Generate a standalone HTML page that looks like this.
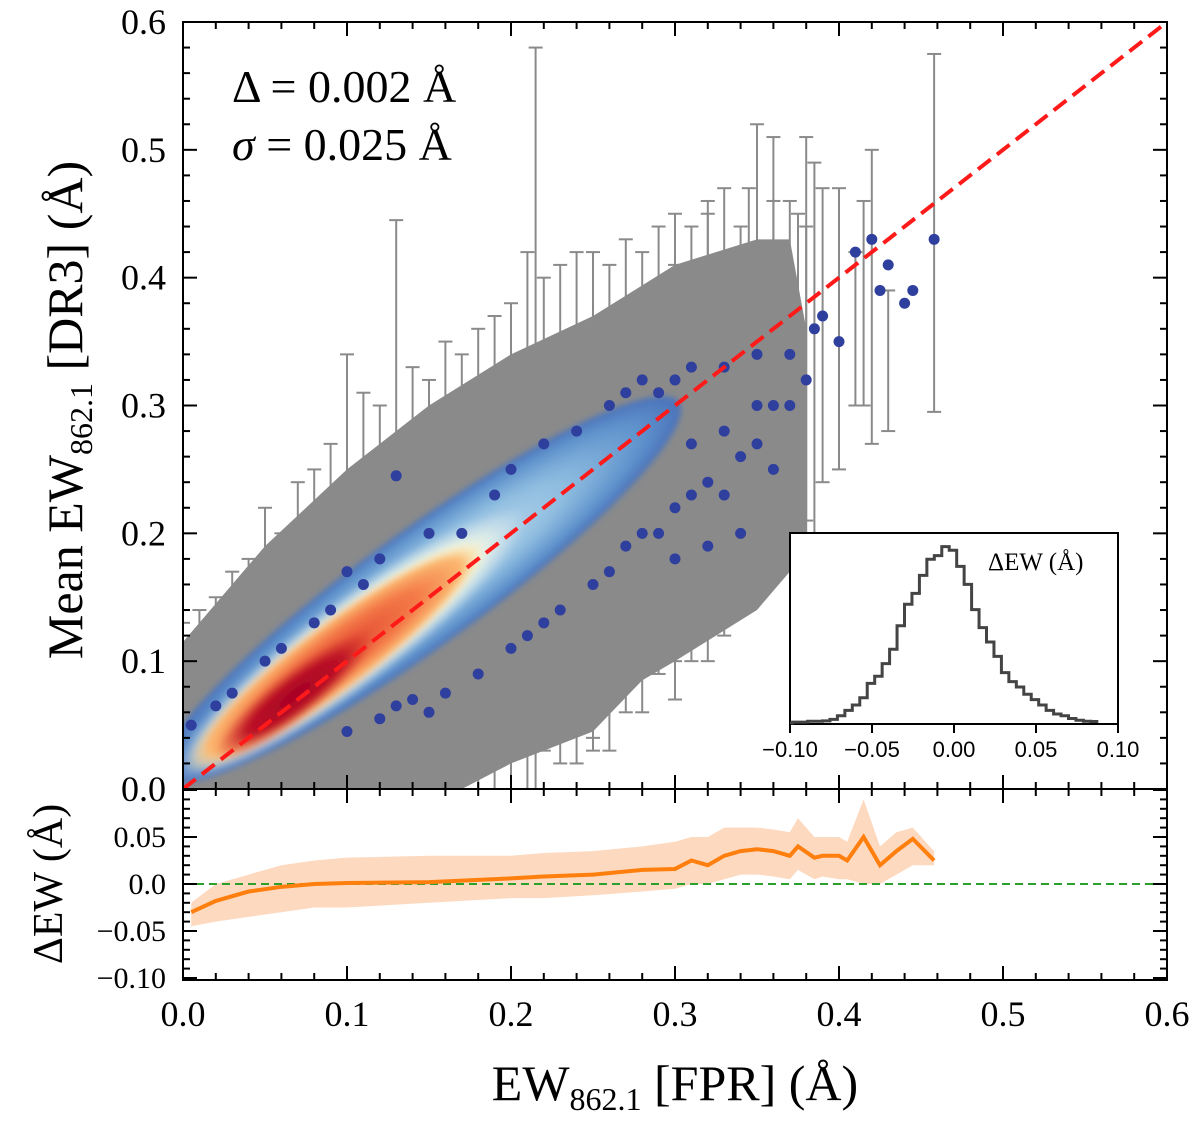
<!DOCTYPE html>
<html><head><meta charset="utf-8"><style>
html,body{margin:0;padding:0;background:#fff;}
svg{display:block;font-family:"Liberation Serif",serif;}
</style></head><body>
<svg id="chart" width="1200" height="1126" viewBox="0 0 1200 1126" xmlns="http://www.w3.org/2000/svg" style="position:absolute;left:0;top:0">
<defs>
<clipPath id="mainclip"><rect x="183" y="22" width="984" height="767"/></clipPath>
<clipPath id="lowclip"><rect x="183" y="789" width="984" height="191"/></clipPath>
<radialGradient id="gBlue"><stop offset="0" stop-color="#cfe5f0"/><stop offset="0.55" stop-color="#8fbde0"/><stop offset="0.85" stop-color="#5f92cc"/><stop offset="1" stop-color="#4a72ba"/></radialGradient>
<radialGradient id="gLight"><stop offset="0" stop-color="#fff1a8"/><stop offset="0.7" stop-color="#f5f8e0"/><stop offset="1" stop-color="#e0eff5" stop-opacity="0"/></radialGradient>
<radialGradient id="gOrange"><stop offset="0" stop-color="#e0432f"/><stop offset="0.55" stop-color="#f47a48"/><stop offset="0.85" stop-color="#fbb870"/><stop offset="1" stop-color="#fde4a0" stop-opacity="0"/></radialGradient>
<radialGradient id="gRed"><stop offset="0" stop-color="#a50026"/><stop offset="0.6" stop-color="#bd1328"/><stop offset="1" stop-color="#d73027" stop-opacity="0"/></radialGradient>
<filter id="blur"><feGaussianBlur stdDeviation="3"/></filter>
</defs>
<g id="main"></g>
<g id="lower"></g>
<g id="inset"></g>
<g id="labels"></g>
</svg>
<script>
// ---------- data ----------
const outlierX = [0.005,0.02,0.03,0.05,0.06,0.08,0.09,0.11,0.12,0.13,0.15,0.17,0.19,0.2,0.22,0.24,0.26,0.27,0.28,0.29,0.3,0.31,0.33,0.35,0.12,0.14,0.16,0.18,0.2,0.21,0.22,0.23,0.25,0.26,0.27,0.28,0.29,0.3,0.31,0.32,0.33,0.34,0.35,0.36,0.37,0.38,0.39,0.4,0.41,0.42,0.425,0.43,0.44,0.445,0.458,0.36,0.34,0.3,0.32,0.35,0.37,0.385,0.33,0.31,0.1,0.13,0.15,0.1];
const outlierY = [0.05,0.065,0.075,0.1,0.11,0.13,0.14,0.16,0.18,0.245,0.2,0.2,0.23,0.25,0.27,0.28,0.3,0.31,0.32,0.31,0.32,0.33,0.33,0.34,0.055,0.07,0.075,0.09,0.11,0.12,0.13,0.14,0.16,0.17,0.19,0.2,0.2,0.22,0.23,0.24,0.23,0.26,0.27,0.3,0.3,0.32,0.37,0.35,0.42,0.43,0.39,0.41,0.38,0.39,0.43,0.25,0.2,0.18,0.19,0.3,0.34,0.36,0.28,0.27,0.045,0.065,0.06,0.17];
const spikeX = [0.0,0.01,0.02,0.03,0.04,0.05,0.06,0.07,0.08,0.09,0.1,0.11,0.12,0.13,0.14,0.15,0.16,0.17,0.18,0.19,0.2,0.21,0.215,0.22,0.23,0.24,0.25,0.26,0.27,0.28,0.29,0.3,0.31,0.32,0.33,0.34,0.345,0.35,0.36,0.37,0.375,0.38,0.385,0.39,0.41,0.415,0.42,0.43,0.458,0.2,0.25,0.3,0.32,0.36,0.38,0.4];
const spikeTop = [0.13,0.14,0.15,0.17,0.18,0.22,0.2,0.24,0.25,0.27,0.34,0.31,0.3,0.445,0.33,0.32,0.35,0.34,0.36,0.37,0.38,0.42,0.58,0.4,0.41,0.42,0.42,0.41,0.43,0.42,0.44,0.45,0.44,0.45,0.47,0.44,0.47,0.52,0.46,0.46,0.45,0.44,0.49,0.47,0.42,0.46,0.5,0.39,0.575,0.31,0.36,0.41,0.46,0.51,0.51,0.47];
const spikeBot = [0.0,0.0,0.0,0.0,0.0,0.0,0.0,0.0,0.0,0.0,0.0,0.0,0.0,0.0,0.0,0.0,0.0,0.0,0.0,0.0,0.0,0.0,0.0,0.03,0.02,0.02,0.04,0.03,0.06,0.06,0.09,0.1,0.1,0.12,0.12,0.14,0.16,0.16,0.18,0.18,0.2,0.21,0.2,0.24,0.3,0.3,0.27,0.28,0.295,0.0,0.03,0.07,0.1,0.17,0.2,0.25];
const resX = [0.005,0.02,0.04,0.06,0.08,0.1,0.15,0.2,0.22,0.25,0.28,0.3,0.31,0.32,0.33,0.34,0.35,0.36,0.37,0.375,0.385,0.39,0.4,0.405,0.415,0.425,0.435,0.445,0.458];
const resY = [-0.03,-0.018,-0.008,-0.003,0.0,0.001,0.002,0.006,0.008,0.01,0.015,0.016,0.025,0.02,0.03,0.035,0.037,0.035,0.03,0.04,0.028,0.03,0.03,0.025,0.05,0.02,0.035,0.048,0.025];
const resLo = [-0.045,-0.04,-0.035,-0.03,-0.025,-0.025,-0.02,-0.015,-0.015,-0.012,-0.008,-0.005,0.0,0.0,0.005,0.01,0.01,0.008,0.005,0.015,0.005,0.008,0.005,0.005,0.0,0.0,0.01,0.02,0.02];
const resHi = [-0.02,0.0,0.01,0.02,0.025,0.028,0.03,0.03,0.033,0.035,0.04,0.045,0.05,0.05,0.06,0.06,0.06,0.058,0.055,0.07,0.05,0.05,0.05,0.045,0.09,0.04,0.055,0.06,0.035];
const histCounts = [0,0,0,0.005,0.005,0.01,0.01,0.012,0.02,0.04,0.07,0.1,0.14,0.22,0.26,0.33,0.41,0.54,0.66,0.72,0.82,0.91,0.93,0.98,0.96,0.87,0.77,0.63,0.53,0.45,0.37,0.28,0.23,0.2,0.16,0.13,0.1,0.07,0.05,0.04,0.025,0.015,0.01,0.008];
const xTicks = ["0.0","0.1","0.2","0.3","0.4","0.5","0.6"];
const yTicks = ["0.0","0.1","0.2","0.3","0.4","0.5","0.6"];
const resTicks = ["\u22120.10","\u22120.05","0.0","0.05"];
const insetTicks = ["\u22120.10","\u22120.05","0.00","0.05","0.10"];

// ---------- scales ----------
const NS="http://www.w3.org/2000/svg";
const X0=183,X1=1167,YT=22,YB=789,LB=980;
const sx=v=>X0+(X1-X0)*v/0.6;
const sy=v=>YB-(YB-YT)*v/0.6;
const ry=v=>884-v*940;
const ix=v=>790+(1118-790)*(v+0.1)/0.2;
const iy=v=>723-v*180;
function el(tag,attrs,parent){const e=document.createElementNS(NS,tag);for(const k in attrs)e.setAttribute(k,attrs[k]);parent.appendChild(e);return e;}
const main=document.getElementById('main'),lower=document.getElementById('lower'),inset=document.getElementById('inset'),labels=document.getElementById('labels');

// ---------- main panel ----------
const mg=el('g',{'clip-path':'url(#mainclip)'},main);
const envTop=[[0,0.115],[0.05,0.19],[0.1,0.25],[0.15,0.3],[0.2,0.34],[0.25,0.37],[0.3,0.41],[0.35,0.43],[0.37,0.43],[0.38,0.36],[0.38,0.2]];
const envBot=[[0.37,0.17],[0.35,0.14],[0.3,0.1],[0.28,0.085],[0.25,0.045],[0.2,0.02],[0.17,0.0],[0,0.0]];
const cloud=el('polygon',{points:envTop.concat(envBot).map(p=>sx(p[0])+','+sy(p[1])).join(' '),fill:'#8a8a8a'},mg);


spikeX.forEach((x,i)=>{
  const g=el('g',{stroke:'#8a8a8a','stroke-width':2},mg);
  
  
  el('line',{x1:sx(x),x2:sx(x),y1:sy(spikeTop[i]),y2:sy(spikeBot[i])},g);
  el('line',{x1:sx(x)-7,x2:sx(x)+7,y1:sy(spikeTop[i]),y2:sy(spikeTop[i])},g);
  if(spikeBot[i]>0) el('line',{x1:sx(x)-7,x2:sx(x)+7,y1:sy(spikeBot[i]),y2:sy(spikeBot[i])},g);
});
const dg=el('g',{filter:'url(#blur)'},mg);


el('ellipse',{cx:420,cy:590,rx:320,ry:58,fill:'url(#gBlue)',transform:'rotate(-36 420 590)'},dg);
el('ellipse',{cx:350,cy:645,rx:220,ry:44,fill:'url(#gLight)',transform:'rotate(-37 350 645)'},dg);
el('ellipse',{cx:335,cy:657,rx:185,ry:36,fill:'url(#gOrange)',transform:'rotate(-37 335 657)'},dg);
el('ellipse',{cx:295,cy:695,rx:100,ry:24,fill:'url(#gRed)',transform:'rotate(-38 295 695)'},dg);
outlierX.forEach((x,i)=>{
  const c=el('circle',{cx:sx(x),cy:sy(outlierY[i]),r:5.5,fill:'#2f3f9e'},mg);
  
  
});
const diag=el('line',{x1:sx(0),y1:sy(0),x2:sx(0.6),y2:sy(0.6),stroke:'#ff1a1a','stroke-width':4,'stroke-dasharray':'16,8'},main);



// ---------- lower panel ----------
const lg=el('g',{'clip-path':'url(#lowclip)'},lower);
const band=el('polygon',{points:resX.map((x,i)=>sx(x)+','+ry(resHi[i])).concat(resX.slice().reverse().map((x,j)=>sx(x)+','+ry(resLo[resX.length-1-j]))).join(' '),fill:'#fdd5b8',opacity:0.9},lg);


const zl=el('line',{x1:X0,x2:X1,y1:ry(0),y2:ry(0),stroke:'#2ca02c','stroke-width':2,'stroke-dasharray':'8,5'},lg);


const rl=el('polyline',{points:resX.map((x,i)=>sx(x)+','+ry(resY[i])).join(' '),fill:'none',stroke:'#ff7f0e','stroke-width':4},lg);



// ---------- frames & ticks ----------
el('rect',{x:X0,y:YT,width:X1-X0,height:YB-YT,fill:'none',stroke:'#000','stroke-width':2},main);
el('rect',{x:X0,y:YB,width:X1-X0,height:LB-YB,fill:'none',stroke:'#000','stroke-width':2},lower);
const tk=el('g',{stroke:'#000','stroke-width':2},labels);
for(let i=0;i<=30;i++){const v=i*0.02,x=sx(v),maj=i%5==0,L=maj?14:7;
  [[YT,1],[YB,-1],[YB,1],[LB,-1]].forEach(([y,d])=>el('line',{x1:x,x2:x,y1:y,y2:y+d*L},tk));}
for(let i=0;i<=30;i++){const v=i*0.02,y=sy(v),maj=i%5==0,L=maj?14:7;
  el('line',{x1:X0,x2:X0+L,y1:y,y2:y},tk);el('line',{x1:X1,x2:X1-L,y1:y,y2:y},tk);}
for(let i=-10;i<=10;i++){const v=i*0.01,y=ry(v);if(y<YB||y>LB)continue;const maj=i%5==0,L=maj?14:7;
  el('line',{x1:X0,x2:X0+L,y1:y,y2:y},tk);el('line',{x1:X1,x2:X1-L,y1:y,y2:y},tk);}
xTicks.forEach((t,i)=>{const e=el('text',{x:sx(i*0.1),y:1026,'font-size':36,'text-anchor':'middle'},labels);e.textContent=t;
  });
yTicks.forEach((t,i)=>{const e=el('text',{x:166,y:sy(i*0.1)+12,'font-size':36,'text-anchor':'end'},labels);e.textContent=t;
  });
resTicks.forEach((t,i)=>{const v=[-0.1,-0.05,0,0.05][i];const e=el('text',{x:166,y:ry(v)+10,'font-size':30,'text-anchor':'end'},labels);e.textContent=t;
  });

// ---------- inset ----------
el('rect',{x:790,y:533,width:328,height:191,fill:'#fff',stroke:'#000','stroke-width':2},inset);
const bw=0.2/histCounts.length, off=-0.012;
let d='M'+ix(-0.1)+','+iy(0);
histCounts.forEach((c,i)=>{const b=Math.min(0.1,-0.1+(i+1)*bw+off);if(b<=-0.1)return;d+=' V'+iy(c)+' H'+ix(b);});
const hp=el('path',{d:d,fill:'none',stroke:'#444','stroke-width':3},inset);


insetTicks.forEach((t,i)=>{const v=-0.1+i*0.05;el('line',{x1:ix(v),x2:ix(v),y1:724,y2:733,stroke:'#000','stroke-width':2},inset);
  const e=el('text',{x:ix(v),y:757,'font-size':22,'text-anchor':'middle','font-family':'Liberation Sans, sans-serif'},inset);e.textContent=t;
  });
</script>
<svg style="position:absolute;left:0;top:0" width="1200" height="1126">
<text x="988" y="570" font-size="25" font-family="Liberation Serif,serif">ΔEW (Å)</text>
<text x="232" y="102" font-size="46" font-family="Liberation Serif,serif">Δ = 0.002 Å</text>
<text x="232" y="160" font-size="46" font-family="Liberation Serif,serif"><tspan font-style="italic">σ</tspan> = 0.025 Å</text>
<text transform="translate(82 410) rotate(-90)" text-anchor="middle" font-size="50" font-family="Liberation Serif,serif">Mean EW<tspan font-size="32" dy="10">862.1</tspan><tspan dy="-10"> [DR3] (Å)</tspan></text>
<text transform="translate(62 884) rotate(-90)" text-anchor="middle" font-size="42" font-family="Liberation Serif,serif">ΔEW (Å)</text>
<text x="675" y="1100" text-anchor="middle" font-size="50" font-family="Liberation Serif,serif">EW<tspan font-size="32" dy="10">862.1</tspan><tspan dy="-10"> [FPR] (Å)</tspan></text>
</svg>
</body></html>
